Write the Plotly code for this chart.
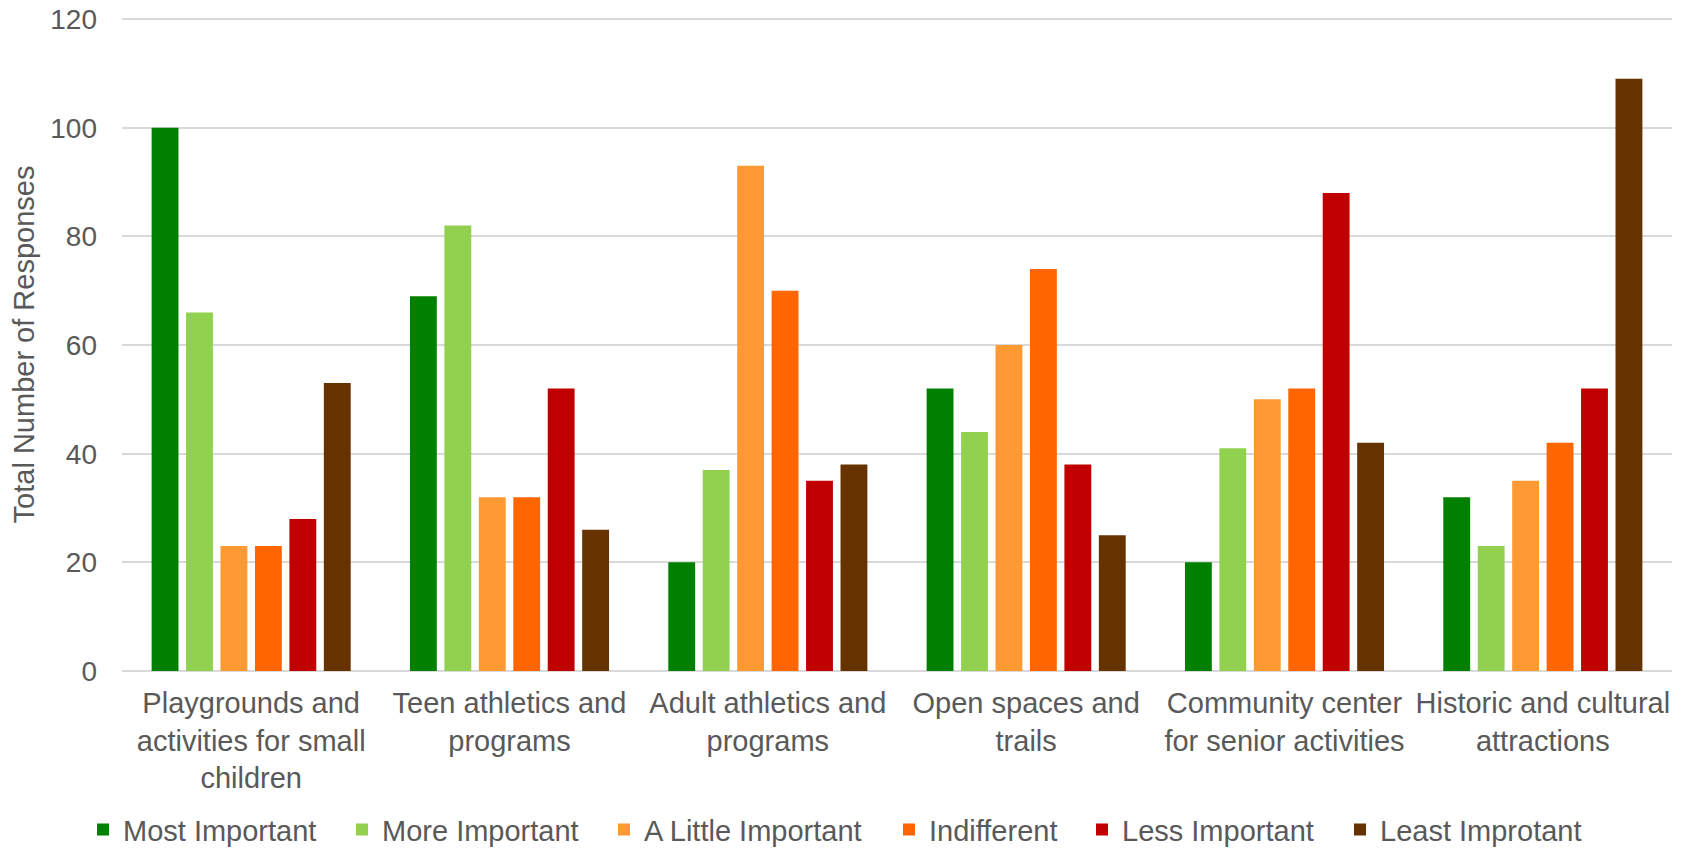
import plotly.graph_objects as go

categories = [
    "Playgrounds and<br>activities for small<br>children",
    "Teen athletics and<br>programs",
    "Adult athletics and<br>programs",
    "Open spaces and<br>trails",
    "Community center<br>for senior activities",
    "Historic and cultural<br>attractions",
]

series_names = ["Most Important", "More Important", "A Little Important",
                "Indifferent", "Less Important", "Least Improtant"]

most_important = [100, 69, 20, 52, 20, 32]
more_important = [66, 82, 37, 44, 41, 23]
a_little_important = [23, 32, 93, 60, 50, 35]
indifferent = [23, 32, 70, 74, 52, 42]
less_important = [28, 52, 35, 38, 88, 52]
least_important = [53, 26, 38, 25, 42, 109]

series_values = [most_important, more_important, a_little_important,
                 indifferent, less_important, least_important]
colors = ["#008000", "#92D050", "#FF9933", "#FF6600", "#C00000", "#663300"]

y_ticks = [0, 20, 40, 60, 80, 100, 120]

TEXT = "#595959"
FONT = "Liberation Sans, Arial, sans-serif"
# the page body adds an 8px offset, so the figure is 8px smaller to fit
W, H = 1677, 840

# left pixel of each legend entry (layout, not data)
legend_left_px = [75, 334, 596, 881, 1074, 1332]

fig = go.Figure()
legend_ids = ["legend", "legend2", "legend3", "legend4", "legend5", "legend6"]
for name, vals, col, lid in zip(series_names, series_values, colors, legend_ids):
    fig.add_trace(go.Bar(name=name, x=categories, y=vals, legend=lid,
                         marker=dict(color=col, line=dict(width=0))))

legend_layout = {}
for lid, px in zip(legend_ids, legend_left_px):
    legend_layout[lid] = dict(
        orientation="h", xref="container", yref="container",
        x=px / W, xanchor="left", y=0.0218, yanchor="middle",
        font=dict(size=29, color=TEXT, family=FONT),
        itemwidth=30, bgcolor="rgba(0,0,0,0)")

fig.update_layout(
    width=W, height=H,
    paper_bgcolor="white", plot_bgcolor="white",
    barmode="group", bargap=0.2, bargroupgap=0.22,
    margin=dict(l=114, r=13, t=10, b=177),
    font=dict(family=FONT, color=TEXT, size=29),
    showlegend=True,
    **legend_layout,
)

fig.update_yaxes(range=[0, 120.2], tickvals=y_ticks, ticks="",
                 automargin=False, ticklabeloverflow="allow",
                 showgrid=True, gridcolor="#D9D9D9", gridwidth=1.5,
                 zeroline=True, zerolinecolor="#D9D9D9", zerolinewidth=2,
                 showline=False, ticklabelstandoff=24,
                 tickfont=dict(size=28, color=TEXT, family=FONT),
                 title=dict(text="Total Number of Responses", standoff=10,
                            font=dict(size=29, color=TEXT, family=FONT)))
fig.update_xaxes(ticks="", showline=False, showgrid=False, automargin=False,
                 ticklabelstandoff=12,
                 tickfont=dict(size=29, color=TEXT, family=FONT))

fig.write_html("out.html")
